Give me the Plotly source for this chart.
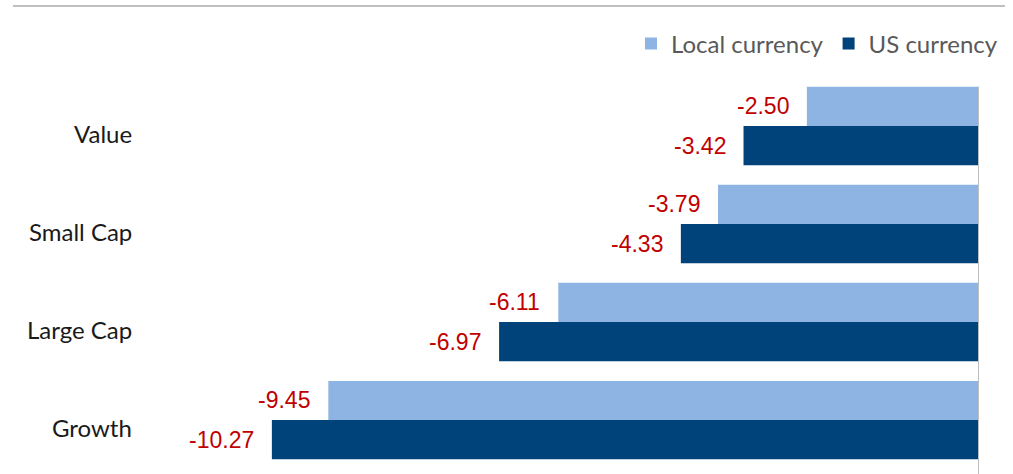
import plotly.graph_objects as go

categories = ["Value", "Small Cap", "Large Cap", "Growth"]
local_currency = [-2.50, -3.79, -6.11, -9.45]
us_currency = [-3.42, -4.33, -6.97, -10.27]
series_names = ["Local currency", "US currency"]

LIGHT = "#8EB4E3"
DARK = "#00427A"
RED = "#C00000"
GRID = "#BFBFBF"

W, H = 1013, 474
ML, MR, MT, MB = 150, 34, 77, 0
PW, PH = W - ML - MR, H - MT - MB

fig = go.Figure()
fig.add_trace(go.Bar(y=categories, x=local_currency, orientation="h", name=series_names[0],
                     marker=dict(color=LIGHT, line=dict(width=0))))
fig.add_trace(go.Bar(y=categories, x=us_currency, orientation="h", name=series_names[1],
                     marker=dict(color=DARK, line=dict(width=0))))

label_font = dict(family="Liberation Sans, Arial", size=23, color=RED)
annotations = []
for i, cat in enumerate(categories):
    annotations.append(dict(x=local_currency[i], y=i - 0.2, xref="x", yref="y",
                            text=f"{local_currency[i]:.2f}", showarrow=False,
                            xanchor="right", xshift=-16, font=label_font))
    annotations.append(dict(x=us_currency[i], y=i + 0.2, xref="x", yref="y",
                            text=f"{us_currency[i]:.2f}", showarrow=False,
                            xanchor="right", xshift=-16, font=label_font))
    annotations.append(dict(x=(134 - ML) / PW, y=i, xref="paper", yref="y",
                            text=cat, showarrow=False, xanchor="right", yshift=-7,
                            font=dict(family="Lato", size=24, color="#1A1A1A")))

shapes = [
    dict(type="line", xref="paper", yref="paper",
         x0=(13 - ML) / PW, x1=(1005 - ML) / PW,
         y0=1 + (MT - 6) / PH, y1=1 + (MT - 6) / PH,
         line=dict(color=GRID, width=2)),
    dict(type="line", xref="x", yref="y", x0=0, x1=0, y0=-0.4, y1=3.6,
         line=dict(color=GRID, width=2)),
]

fig.update_layout(
    width=W, height=H,
    margin=dict(l=ML, r=MR, t=MT, b=MB),
    paper_bgcolor="white", plot_bgcolor="white",
    barmode="group", bargap=0.2, bargroupgap=0,
    showlegend=True,
    legend=dict(orientation="h", x=(1003 - ML) / PW, xanchor="right", y=1 + (MT - 44) / PH,
                yanchor="middle", font=dict(family="Lato", size=24, color="#595959"),
                bgcolor="rgba(0,0,0,0)", traceorder="normal"),
    xaxis=dict(range=[-12.04, 0], showgrid=False, zeroline=False, showline=False,
               showticklabels=False, ticks=""),
    yaxis=dict(range=[3.55, -0.5], showgrid=False, zeroline=False, showline=False,
               showticklabels=False, ticks="", type="category"),
    annotations=annotations,
    shapes=shapes,
)

fig.write_html("out.html", config={"displayModeBar": False},
               post_script="document.body.style.margin='0';document.body.style.padding='0';")
